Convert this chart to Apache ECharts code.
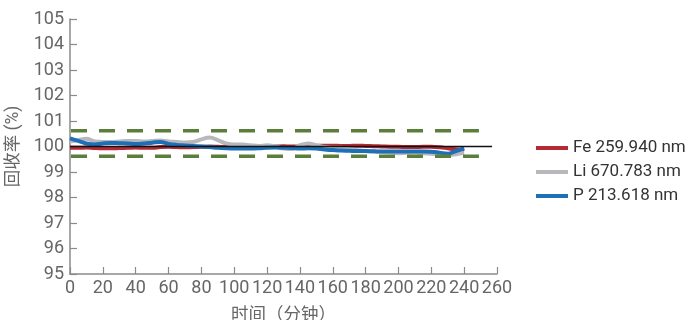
<!DOCTYPE html>
<html><head><meta charset="utf-8">
<script src="https://cdn.jsdelivr.net/npm/echarts@6/dist/echarts.min.js"></script>
<style>html,body{margin:0;padding:0;background:#fff}#c{width:691px;height:320px}</style>
</head><body><div id="c"></div>
<script>
const times = [0,5,10,15,20,25,30,35,40,45,50,55,60,65,70,75,80,85,90,95,100,105,110,115,120,125,130,135,140,145,150,155,160,165,170,175,180,185,190,195,200,205,210,215,220,225,230,235,240];
const fe = [99.95,99.95,99.96,99.94,99.93,99.93,99.94,99.95,99.96,99.95,99.95,99.98,99.99,99.98,99.97,99.98,99.99,100.0,99.99,99.98,99.98,99.99,99.99,99.98,99.99,100.0,100.01,100.0,100.0,100.01,100.02,100.03,100.03,100.02,100.02,100.03,100.02,100.01,100.0,99.99,99.99,99.98,99.98,99.99,99.99,99.97,99.93,99.89,99.88];
const li = [100.2,100.25,100.3,100.2,100.18,100.18,100.2,100.22,100.22,100.2,100.22,100.24,100.2,100.18,100.16,100.18,100.28,100.35,100.25,100.12,100.08,100.08,100.05,100.02,100.05,100.0,99.92,99.9,100.05,100.12,100.05,99.98,99.95,99.95,99.9,99.85,99.82,99.8,99.78,99.76,99.74,99.75,99.76,99.74,99.72,99.7,99.68,99.7,99.75];
const p = [100.32,100.22,100.12,100.08,100.12,100.14,100.13,100.12,100.1,100.12,100.15,100.18,100.1,100.06,100.04,100.02,100.0,99.98,99.95,99.93,99.92,99.92,99.92,99.93,99.95,99.96,99.95,99.94,99.92,99.93,99.92,99.88,99.86,99.84,99.83,99.82,99.82,99.81,99.8,99.8,99.8,99.8,99.8,99.8,99.79,99.76,99.72,99.82,99.93];
const seriesNames = ['Fe 259.940 nm','Li 670.783 nm','P 213.618 nm'];
const refValue = 100;
const refEnd = 257;
const limitUpper = 100.62;
const limitLower = 99.62;
const limitEnd = 249;

const pairs = arr => times.map((t,i)=>[t,arr[i]]);
const chart = echarts.init(document.getElementById('c'));
const font = 'Roboto, "Noto Sans CJK SC", sans-serif';
const axisCol = '#8a8a8a';
const lbl = {color:'#666', fontSize:18, fontFamily:font};
const nm = {color:'#666', fontSize:17.5, fontFamily:font};
chart.setOption({
  animation:false,
  grid:{left:70,right:194,top:19,bottom:46,outerBoundsMode:'none',containLabel:false},
  legend:{orient:'vertical',left:531,top:133,itemWidth:32,itemHeight:4,itemGap:4,icon:'rect',
    data:seriesNames,textStyle:{color:'#333',fontSize:17,fontFamily:font,lineHeight:20}},
  xAxis:{type:'value',min:0,max:260,interval:20,
    name:'时间（分钟）',nameLocation:'middle',nameGap:33,nameTextStyle:nm,
    axisLine:{lineStyle:{color:axisCol,width:1.5}},
    axisTick:{inside:true,length:7,lineStyle:{color:axisCol,width:1.2}},
    axisLabel:Object.assign({margin:6},lbl),splitLine:{show:false}},
  yAxis:{type:'value',min:95,max:105,interval:1,
    name:'回收率 (%)',nameLocation:'middle',nameGap:41,nameTextStyle:nm,
    axisLine:{show:true,lineStyle:{color:axisCol,width:1.5}},
    axisTick:{show:true,inside:true,length:7,lineStyle:{color:axisCol,width:1.2}},
    axisLabel:Object.assign({margin:6},lbl),splitLine:{show:false}},
  series:[
    {name:seriesNames[0],type:'line',data:pairs(fe),smooth:0.4,symbol:'none',color:'#b52a35',lineStyle:{width:4},z:2},
    {name:seriesNames[1],type:'line',data:pairs(li),smooth:0.4,symbol:'none',color:'#b8b8bc',lineStyle:{width:4},z:2},
    {name:seriesNames[2],type:'line',data:pairs(p),smooth:0.4,symbol:'none',color:'#1d70b7',lineStyle:{width:4},z:3},
    {name:'ref',type:'line',data:[[0,refValue],[refEnd,refValue]],symbol:'none',color:'#111',lineStyle:{width:1.3},z:4},
    {name:'upper',type:'line',data:[[0,limitUpper],[limitEnd,limitUpper]],symbol:'none',color:'#5b7f3b',lineStyle:{width:3.5,type:[16,12],dashOffset:-1},z:5},
    {name:'lower',type:'line',data:[[0,limitLower],[limitEnd,limitLower]],symbol:'none',color:'#5b7f3b',lineStyle:{width:3.5,type:[16,12],dashOffset:-1},z:5}
  ]
});
</script></body></html>
